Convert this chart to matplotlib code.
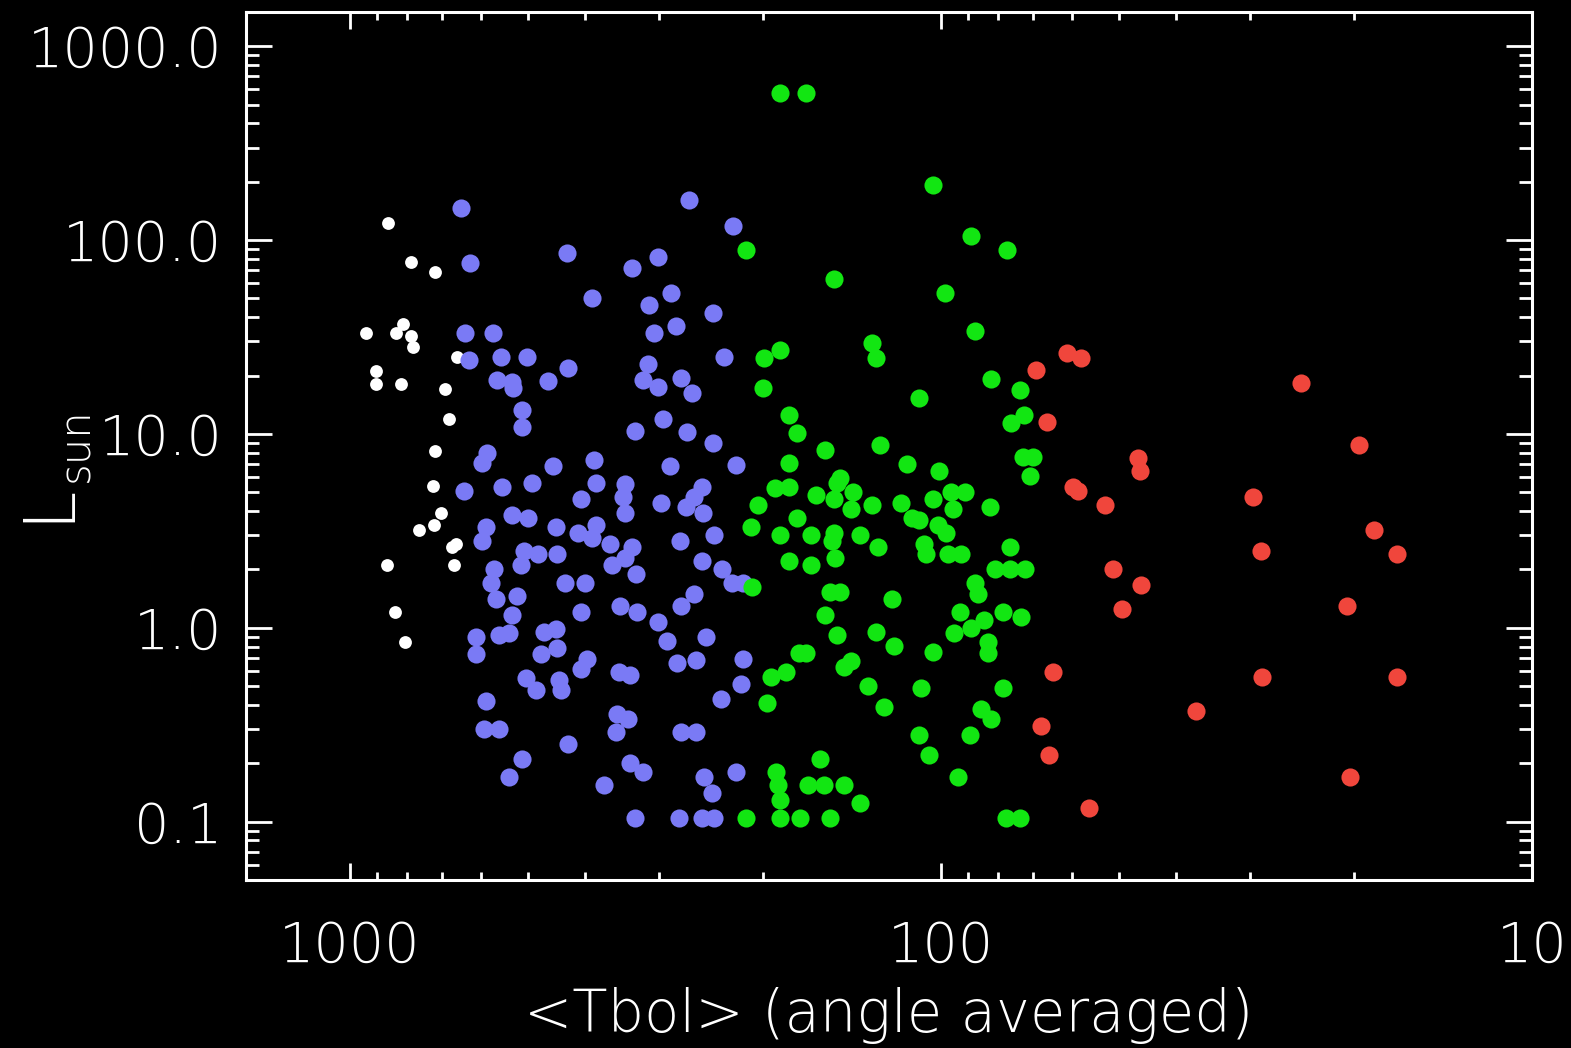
import matplotlib
matplotlib.use("Agg")
import matplotlib.pyplot as plt
import numpy as np
from matplotlib.ticker import FixedLocator, FixedFormatter, LogLocator, NullFormatter

# ---------------- data ----------------
white_tbol = [863, 789, 718, 940, 836, 813, 789, 783, 659, 904, 904, 820, 691, 681, 718,
              724, 701, 721, 764, 662, 673, 866, 667, 839, 807]
white_lum = [122, 77, 68, 33, 33, 37, 32, 28, 25, 21, 18, 18, 17, 12, 8.2,
             5.4, 3.9, 3.4, 3.2, 2.7, 2.6, 2.1, 2.1, 1.2, 0.84]

blue_tbol = [650, 627, 430, 640, 573, 629, 556, 502, 427, 565, 533, 529, 463, 512, 512, 587,
             598, 454, 642, 554, 493, 533, 499,
             267, 225, 301, 334, 390, 286, 312, 243, 281, 306, 233, 313, 319, 301, 275, 264,
             295, 330, 269, 243, 222, 287, 387, 384, 406, 343, 345, 342, 298, 254, 262, 270, 253,
             449, 411, 384, 390, 363, 334, 342, 361, 328, 446, 277, 242, 254, 235, 226, 216,
             433, 400, 262, 275, 349, 327, 406, 301, 291, 250, 449, 446, 398, 406, 280, 260,
             351, 336, 443, 440, 216, 218, 236, 354, 338, 355, 275, 260, 427, 336, 319, 372,
             252, 244, 222, 330, 278, 254, 242,
             589, 598, 508, 480, 514, 571, 578, 567, 522, 533, 613, 613, 560, 539, 470, 476,
             504, 485, 589, 594, 560, 512, 539]
blue_lum = [146, 76, 86, 33, 33, 24, 25, 25, 22, 19, 18.5, 17.2, 18.8, 13.3, 10.9, 8.0,
            7.1, 6.8, 5.1, 5.3, 5.6, 3.8, 3.7,
            161, 118, 82, 72, 50, 53, 46, 42, 36, 33, 25, 23, 19, 17.5, 19.4, 16.3,
            11.9, 10.4, 10.2, 9.0, 6.9, 6.8, 7.3, 5.6, 4.6, 5.5, 4.7, 3.9, 4.4, 5.3, 4.7, 4.2, 3.9,
            3.3, 3.1, 3.4, 2.9, 2.7, 2.6, 2.3, 2.1, 1.9, 2.4, 2.8, 3.0, 2.2, 2.0, 1.7, 1.7,
            1.7, 1.7, 1.5, 1.3, 1.3, 1.2, 1.2, 1.07, 0.85, 0.90, 0.98, 0.79, 0.69, 0.61, 0.66, 0.68,
            0.59, 0.57, 0.54, 0.48, 0.69, 0.51, 0.43, 0.36, 0.34, 0.29, 0.29, 0.29, 0.25, 0.20, 0.18, 0.155,
            0.17, 0.14, 0.18, 0.105, 0.105, 0.105, 0.105,
            3.3, 2.8, 2.5, 2.4, 2.1, 2.0, 1.7, 1.4, 1.45, 1.17, 0.90, 0.73, 0.92, 0.94, 0.95, 0.73,
            0.55, 0.48, 0.42, 0.30, 0.30, 0.21, 0.17]

green_tbol = [187, 169, 103, 214, 89, 77.4, 152, 98.6, 87.6, 199,
              187, 131, 129, 200, 82.4, 73.5, 109, 181, 175, 72.3,
              76.2, 157, 127, 181, 114, 100.6, 72.8, 70.0, 70.8, 148,
              191, 181, 204, 163, 150, 152, 141, 142, 131, 117,
              112, 109, 103, 96.3, 91, 95.5, 82.7, 210, 175, 187,
              166, 152, 153, 137, 128, 101, 98, 107, 106, 97.4,
              92.5, 76.5, 181, 166, 151, 81, 76.5, 72, 209, 154,
              148, 121, 87.6, 86.6, 157, 150, 129, 120, 92.9, 95,
              89, 84.6, 78.6, 73.2, 83.3, 83.3, 103, 174, 169, 183,
              194, 146, 142, 133, 108, 78.6, 197, 125, 85.6, 82.4,
              109, 89.3, 105, 160, 190, 189, 187, 168, 158, 146,
              137, 93.6, 214, 187, 173, 154, 77.7, 73.5]
green_lum = [570, 570, 192, 89, 105, 89, 63, 53, 34, 24.7,
             27, 29.4, 24.7, 17.2, 19.2, 16.9, 15.3, 12.5, 10.1, 12.5,
             11.4, 8.3, 8.8, 7.1, 7.0, 6.4, 7.6, 7.6, 6.1, 5.9,
             5.25, 5.3, 4.3, 4.85, 5.6, 4.6, 5.0, 4.1, 4.3, 4.4,
             3.7, 3.6, 4.6, 5.0, 5.0, 4.1, 4.2, 3.3, 3.7, 3.0,
             3.0, 3.1, 2.8, 3.0, 2.6, 3.4, 3.1, 2.7, 2.4, 2.4,
             2.4, 2.6, 2.2, 2.1, 2.3, 2.0, 2.0, 2.0, 1.63, 1.53,
             1.53, 1.4, 1.7, 1.5, 1.17, 0.92, 0.95, 0.81, 1.2, 0.94,
             1.0, 1.1, 1.2, 1.13, 0.84, 0.74, 0.75, 0.74, 0.74, 0.59,
             0.56, 0.63, 0.67, 0.50, 0.49, 0.49, 0.41, 0.39, 0.38, 0.34,
             0.28, 0.28, 0.22, 0.21, 0.18, 0.155, 0.13, 0.155, 0.155, 0.155,
             0.125, 0.17, 0.105, 0.105, 0.105, 0.105, 0.105, 0.105]

red_tbol = [69.2, 61.3, 58, 66.2, 59.9, 58.6, 52.8, 46.5, 46.1, 51.2,
            45.9, 49.5, 64.7, 67.8, 65.7, 56.2, 37, 29.6, 28.7, 28.6,
            24.6, 19.6, 18.5, 16.9, 20.6, 16.9, 20.3]
red_lum = [21.4, 26, 24.7, 11.5, 5.3, 5.1, 4.3, 7.5, 6.4, 2.0,
           1.67, 1.25, 0.59, 0.31, 0.22, 0.118, 0.37, 4.7, 2.5, 0.56,
           18.3, 8.8, 3.2, 2.4, 1.3, 0.56, 0.17]

x_ticks = [1000, 100, 10]
x_tick_labels = ["1000", "100", "10"]
y_ticks = [0.1, 1, 10, 100, 1000]
y_tick_labels = ["0.1", "1.0", "10.0", "100.0", "1000.0"]
x_label = "<Tbol> (angle averaged)"

# ---------------- figure ----------------
plt.rcParams["font.family"] = ["DejaVu Sans"]
plt.rcParams["font.weight"] = 200

W, H = 1571, 1048
fig = plt.figure(figsize=(W / 100, H / 100), dpi=100, facecolor="black")
ax = fig.add_axes([246 / W, 1 - 880 / H, (1532 - 246) / W, (880 - 12) / H])
ax.set_facecolor("black")
ax.set_xscale("log")
ax.set_yscale("log")
ax.set_xlim(1500, 10)
ax.set_ylim(0.05, 1500)

ax.scatter(white_tbol, white_lum, s=85, c="white", linewidths=0, zorder=2)
ax.scatter(blue_tbol, blue_lum, s=170, c="#7a7af5", linewidths=0, zorder=3)
ax.scatter(green_tbol, green_lum, s=170, c="#12e612", linewidths=0, zorder=4)
ax.scatter(red_tbol, red_lum, s=170, c="#f0463c", linewidths=0, zorder=5)

for sp in ax.spines.values():
    sp.set_color("white")
    sp.set_linewidth(2.2)

ax.xaxis.set_major_locator(FixedLocator(x_ticks))
ax.xaxis.set_major_formatter(FixedFormatter(x_tick_labels))
ax.yaxis.set_major_locator(FixedLocator(y_ticks))
ax.yaxis.set_major_formatter(FixedFormatter(y_tick_labels))
ax.xaxis.set_minor_locator(LogLocator(base=10, subs=np.arange(2, 10) * 1.0, numticks=30))
ax.yaxis.set_minor_locator(LogLocator(base=10, subs=np.arange(2, 10) * 1.0, numticks=30))
ax.xaxis.set_minor_formatter(NullFormatter())
ax.yaxis.set_minor_formatter(NullFormatter())

ax.tick_params(axis="x", which="major", direction="in", length=12.2, width=2,
               top=True, bottom=True, colors="white", labelsize=40, pad=29)
ax.tick_params(axis="x", which="minor", direction="in", length=6.1, width=2,
               top=True, bottom=True, colors="white")
ax.tick_params(axis="y", which="major", direction="in", length=18.7, width=2,
               left=True, right=True, colors="white", labelsize=40, pad=17)
ax.tick_params(axis="y", which="minor", direction="in", length=9.4, width=2,
               left=True, right=True, colors="white")

fig.text(889 / W, 1 - 1032 / H, x_label, color="white", fontsize=41.5,
         ha="center", va="baseline", fontweight=200)
fig.text(67 / W, 1 - 522 / H, "L", color="white", fontsize=51, rotation=90,
         rotation_mode="anchor", ha="left", va="baseline", fontweight=200)
fig.text(88 / W, 1 - 482 / H, "sun", color="white", fontsize=30, rotation=90,
         rotation_mode="anchor", ha="left", va="baseline", fontweight=200)

fig.savefig("out.png", dpi=100, facecolor="black")
